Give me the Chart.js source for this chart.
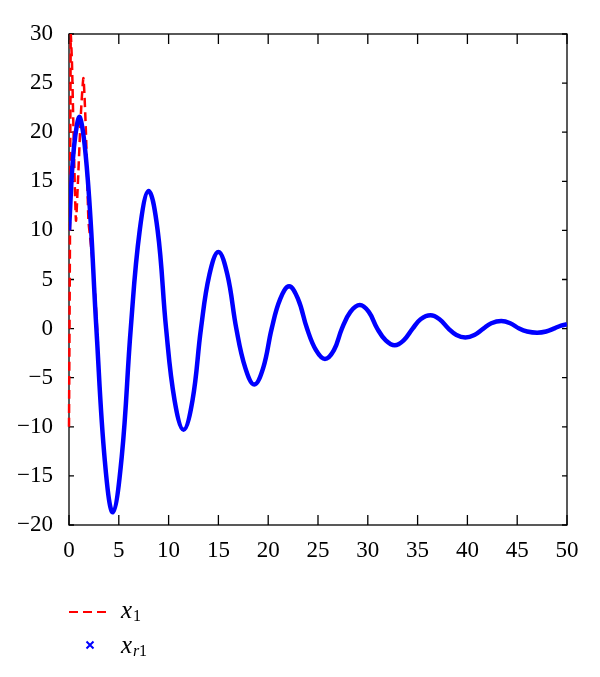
<!DOCTYPE html>
<html>
<head>
<meta charset="utf-8">
<script src="https://cdn.jsdelivr.net/npm/chart.js@4.4.1/dist/chart.umd.min.js"></script>
<style>
  body { margin: 0; background: #fff; }
  #wrap { width: 600px; height: 677px; position: relative; }
</style>
</head>
<body>
<div id="wrap"><canvas id="chart"></canvas></div>
<script>
// x_r1 (blue) at peaks, troughs, zero crossings and in between
const blueT = [0, 0.5, 1.1, 1.9, 2.75, 3.6, 4.4, 5.3, 6.2, 7.1, 8.0, 8.9, 9.75, 10.6, 11.5, 12.4,
  13.25, 14.1, 15.0, 15.9, 16.8, 17.7, 18.6, 19.5, 20.35, 21.2, 22.1, 23.0, 23.9, 24.8, 25.7, 26.6,
  27.4, 28.25, 29.2, 30.1, 30.95, 31.8, 32.7, 33.6, 34.5, 35.3, 36.3, 37.2, 38.1, 38.9, 39.8, 40.7,
  41.6, 42.4, 43.4, 44.3, 45.2, 46.0, 47.0, 47.9, 48.8, 49.4, 50];
const blueY = [10, 18.5, 21.5, 15, 0, -13.5, -18.7, -13, 0, 10, 14, 10, 0, -7.3, -10.3, -7.3,
  0, 5.5, 7.8, 5.5, 0, -4, -5.7, -4, 0, 3, 4.3, 3, 0, -2.2, -3.1, -2.2,
  0, 1.7, 2.4, 1.7, 0, -1.2, -1.7, -1.2, 0, 0.95, 1.35, 0.95, 0, -0.65, -0.9, -0.65,
  0, 0.55, 0.78, 0.55, 0, -0.3, -0.42, -0.3, 0.05, 0.3, 0.45];

// x_1 (red dashed), only visible at the start, then hidden under the blue
const redT = [0, 0.1, 0.18, 0.3, 0.5, 0.7, 0.9, 1.2, 1.45, 1.7, 1.95, 2.1, 2.3, 2.6, 2.9];
const redY = [-10, 10, 30, 27, 18, 11, 15, 22, 25.5, 20, 11, 9.5, 7.5, 4, -1.5];

const xTicks = [0, 5, 10, 15, 20, 25, 30, 35, 40, 45, 50];
const yTicks = [-20, -15, -10, -5, 0, 5, 10, 15, 20, 25, 30];

const serif = '"Liberation Serif", "DejaVu Serif", serif';

function pts(t, y) {
  return t.map((v, i) => ({ x: v, y: y[i] }));
}

function minus(v) {
  return v < 0 ? '\u2212' + Math.abs(v) : String(v);
}

// box round the plot with inward ticks on all four sides
const boxPlugin = {
  id: 'box',
  beforeDatasetsDraw(chart) {
    const { ctx, chartArea: a, scales: { x, y } } = chart;
    ctx.save();
    ctx.strokeStyle = '#000';
    ctx.lineWidth = 1.3;
    ctx.strokeRect(a.left, a.top, a.right - a.left, a.bottom - a.top);
    ctx.beginPath();
    xTicks.forEach(v => {
      const px = x.getPixelForValue(v);
      ctx.moveTo(px, a.bottom); ctx.lineTo(px, a.bottom - 10);
      ctx.moveTo(px, a.top); ctx.lineTo(px, a.top + 10);
    });
    yTicks.forEach(v => {
      const py = y.getPixelForValue(v);
      ctx.moveTo(a.left, py); ctx.lineTo(a.left + 5, py);
      ctx.moveTo(a.right, py); ctx.lineTo(a.right - 5, py);
    });
    ctx.stroke();
    ctx.restore();
  }
};

// legend below the plot, with subscripts
const legendPlugin = {
  id: 'mathLegend',
  afterDraw(chart) {
    const ctx = chart.ctx;
    ctx.save();
    ctx.strokeStyle = '#ff0000';
    ctx.lineWidth = 2;
    ctx.setLineDash([9, 5]);
    ctx.beginPath();
    ctx.moveTo(69, 612); ctx.lineTo(111, 612);
    ctx.stroke();
    ctx.setLineDash([]);

    ctx.strokeStyle = '#0000ff';
    ctx.lineWidth = 2;
    ctx.beginPath();
    ctx.moveTo(86.5, 641.5); ctx.lineTo(93.5, 648.5);
    ctx.moveTo(93.5, 641.5); ctx.lineTo(86.5, 648.5);
    ctx.stroke();

    ctx.fillStyle = '#000';
    ctx.textBaseline = 'alphabetic';
    ctx.font = 'italic 25px ' + serif;
    ctx.fillText('x', 121, 618);
    ctx.font = '16px ' + serif;
    ctx.fillText('1', 133, 621);

    ctx.font = 'italic 25px ' + serif;
    ctx.fillText('x', 121, 653);
    ctx.font = 'italic 16px ' + serif;
    ctx.fillText('r', 133, 656);
    ctx.font = '16px ' + serif;
    ctx.fillText('1', 139, 656);
    ctx.restore();
  }
};

Chart.defaults.color = '#000';

new Chart(document.getElementById('chart').getContext('2d'), {
  type: 'line',
  data: {
    datasets: [{
      label: 'x_r1',
      data: pts(blueT, blueY),
      borderColor: '#0000ff',
      borderWidth: 4.5,
      pointRadius: 0,
      tension: 0.4,
      order: 0
    }, {
      label: 'x_1',
      data: pts(redT, redY),
      borderColor: '#ff0000',
      borderWidth: 2.5,
      borderDash: [9, 5],
      pointRadius: 0,
      tension: 0.2,
      clip: 3,
      order: 1
    }]
  },
  options: {
    responsive: true,
    maintainAspectRatio: false,
    animation: false,
    layout: { padding: { top: 34, right: 33, left: 0, bottom: 112 } },
    plugins: { legend: { display: false }, tooltip: { enabled: false } },
    scales: {
      x: {
        type: 'linear',
        min: 0,
        max: 50,
        grid: { display: false },
        border: { display: false },
        ticks: { stepSize: 5, padding: 4, font: { family: serif, size: 23 }, callback: minus },
        afterFit: s => { s.height = 40; }
      },
      y: {
        min: -20,
        max: 30,
        grid: { display: false },
        border: { display: false },
        ticks: { stepSize: 5, padding: 8, font: { family: serif, size: 23 }, callback: minus },
        afterFit: s => { s.width = 69; }
      }
    }
  },
  plugins: [boxPlugin, legendPlugin]
});
</script>
</body>
</html>
